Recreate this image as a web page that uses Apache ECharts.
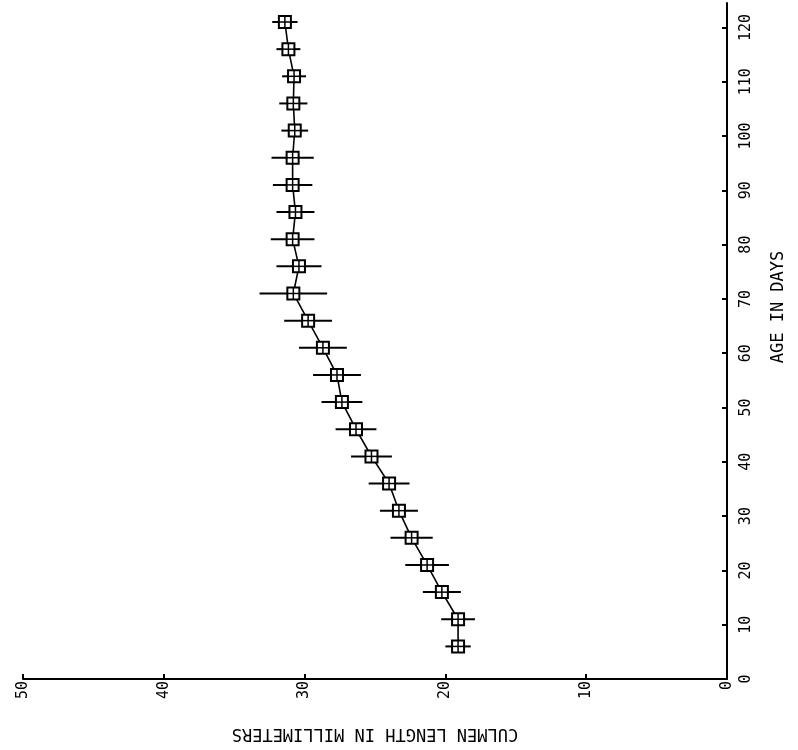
<!DOCTYPE html>
<html><head><meta charset="utf-8">
<script src="https://cdn.jsdelivr.net/npm/echarts@6/dist/echarts.min.js"></script>
<style>html,body{margin:0;padding:0;background:#fff}#c{width:798px;height:750px}</style>
</head><body><div id="c"></div>
<script>
const ageDays = [6,11,16,21,26,31,36,41,46,51,56,61,66,71,76,81,86,91,96,101,106,111,116,121];
const culmenMean = [19.1,19.1,20.25,21.3,22.4,23.3,24.0,25.25,26.35,27.35,27.7,28.7,29.75,30.8,30.4,30.85,30.65,30.85,30.85,30.7,30.8,30.75,31.15,31.4];
const culmenSD = [0.9,1.2,1.35,1.55,1.5,1.35,1.45,1.45,1.45,1.45,1.7,1.7,1.7,2.4,1.6,1.55,1.35,1.4,1.5,0.95,1.0,0.85,0.85,0.9];
const ageTicks = [0,10,20,30,40,50,60,70,80,90,100,110,120];
const culmenTicks = [0,10,20,30,40,50];

const FONT = 'DejaVu Sans Mono';
const chart = echarts.init(document.getElementById('c'), null, {renderer:'canvas'});
const lineData = ageDays.map((a,i)=>[culmenMean[i], a]);
const barData = ageDays.map((a,i)=>[culmenMean[i], a, culmenSD[i]]);

chart.setOption({
  animation:false,
  backgroundColor:'#fff',
  grid:{left:23, right:71, top:3, bottom:71, containLabel:false, outerBoundsMode:'none'},
  xAxis:{
    type:'value', inverse:true, position:'bottom',
    min:culmenTicks[0], max:culmenTicks[culmenTicks.length-1], interval:culmenTicks[1]-culmenTicks[0],
    axisLine:{show:true, onZero:false, lineStyle:{color:'#000', width:2}},
    axisTick:{show:true, inside:true, length:5, lineStyle:{color:'#000', width:2}},
    axisLabel:{rotate:90, margin:2, fontFamily:FONT, fontSize:15, color:'#000'},
    splitLine:{show:false},
    name:'CULMEN LENGTH IN MILLIMETERS', nameLocation:'middle', nameGap:46, nameRotate:180,
    nameTextStyle:{fontFamily:FONT, fontSize:17, color:'#000'}
  },
  yAxis:{
    type:'value', position:'right',
    min:ageTicks[0], max:124.5, interval:ageTicks[1]-ageTicks[0],
    axisLine:{show:true, onZero:false, lineStyle:{color:'#000', width:2}},
    axisTick:{show:true, inside:true, length:5, lineStyle:{color:'#000', width:2}},
    axisLabel:{rotate:90, margin:12, fontFamily:FONT, fontSize:15, color:'#000', showMaxLabel:false},
    splitLine:{show:false}
  },
  graphic:[{
    type:'text', x:779, y:307, rotation:Math.PI/2,
    style:{text:'AGE IN DAYS', font:'17px "DejaVu Sans Mono"', fill:'#000',
           align:'center', verticalAlign:'middle', textAlign:'center', textVerticalAlign:'middle'}
  }],
  series:[
    {type:'line', data:lineData, symbol:'none', z:2,
     lineStyle:{color:'#000', width:1.6}},
    {type:'custom', data:barData, z:3, encode:{x:0, y:1},
     renderItem:function(params, api){
       const m = api.value(0), a = api.value(1), sd = api.value(2);
       const c = api.coord([m, a]);
       const lo = api.coord([m - sd, a]);
       const hi = api.coord([m + sd, a]);
       const s = 12;
       return {type:'group', children:[
         {type:'line', shape:{x1:lo[0], y1:lo[1], x2:hi[0], y2:hi[1]}, style:{stroke:'#000', lineWidth:2}},
         {type:'rect', shape:{x:c[0]-s/2, y:c[1]-s/2, width:s, height:s}, style:{stroke:'#000', fill:'#fff', lineWidth:2}},
         {type:'line', shape:{x1:c[0]-s/2, y1:c[1], x2:c[0]+s/2, y2:c[1]}, style:{stroke:'#000', lineWidth:1.5}},
         {type:'line', shape:{x1:c[0], y1:c[1]-s/2, x2:c[0], y2:c[1]+s/2}, style:{stroke:'#000', lineWidth:1.5}}
       ]};
     }}
  ]
});
</script></body></html>
